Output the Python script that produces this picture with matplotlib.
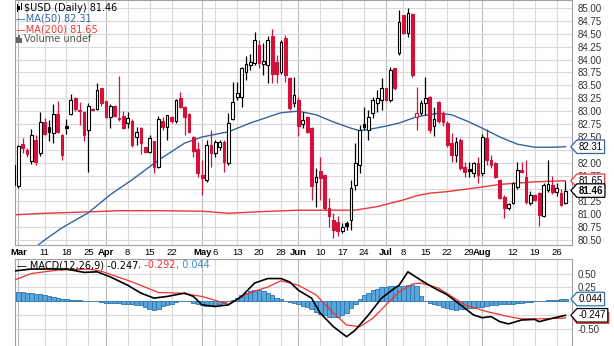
import matplotlib
matplotlib.use("Agg")
import matplotlib.pyplot as plt
import numpy as np
from matplotlib.path import Path
from matplotlib.patches import Rectangle, Polygon

# daily bars, Mar 1 .. Aug 28 (first bar is the clipped one before Mar 1)
opens = [81.56,
         81.54, 82.37, 82.24, 82.03, 82.45, 82.18, 82.79, 82.69, 82.58, 82.94,
         82.54, 82.71, 82.95, 83.26, 83.03, 82.99, 82.63, 83.05, 83.05, 83.44,
         83.19, 82.89, 83.10, 82.87, 82.91, 82.78, 82.81, 82.50, 82.67, 82.30,
         82.20, 82.42, 81.91, 82.80, 82.70, 82.89, 82.80, 83.25, 83.09, 82.95,
         82.49, 82.26, 81.76, 81.67, 82.35, 82.18, 82.30, 82.41, 82.00, 82.84,
         83.28, 83.28, 83.75, 83.90, 83.93, 84.28, 83.91, 83.90, 84.46, 83.96,
         83.75, 84.41, 83.64, 83.15, 83.22, 82.76, 82.89, 82.67, 81.62, 81.83,
         81.76, 81.12, 80.89, 80.86, 80.67, 80.84, 80.89, 81.57, 81.96, 82.76,
         82.64, 82.96, 83.15, 83.22, 83.44, 83.22, 83.83, 84.12, 84.86, 84.51,
         84.88, 82.89, 82.97, 83.16, 83.28, 82.71, 83.18, 82.97, 82.77, 82.38,
         82.15, 82.44, 81.92, 81.87, 81.80, 82.00, 81.80, 82.48, 82.05, 82.00,
         81.67, 81.34, 81.12, 81.22, 81.53, 81.86, 81.73, 81.22, 81.38, 81.41,
         80.96, 81.48, 81.57, 81.44, 81.42, 81.22]
highs = [81.98,
         82.35, 82.48, 82.28, 82.65, 82.53, 82.98, 82.87, 82.83, 83.13, 83.20,
         82.55, 82.84, 83.34, 83.28, 83.17, 83.00, 83.15, 83.07, 83.54, 83.45,
         83.20, 83.13, 83.12, 83.69, 83.00, 82.99, 82.84, 82.69, 82.69, 82.31,
         82.53, 82.43, 82.90, 82.89, 82.93, 82.90, 83.23, 83.38, 83.10, 82.97,
         82.51, 82.41, 82.05, 82.44, 82.64, 82.44, 82.44, 82.44, 82.96, 83.57,
         83.57, 83.86, 84.06, 84.10, 84.54, 84.38, 84.32, 84.45, 84.60, 84.09,
         84.38, 84.48, 83.67, 83.67, 83.28, 82.99, 82.90, 82.70, 81.89, 82.12,
         81.77, 81.31, 81.02, 80.96, 80.83, 80.87, 81.67, 82.38, 82.73, 83.09,
         83.02, 83.28, 83.41, 83.64, 83.45, 83.86, 83.84, 84.96, 84.87, 85.00,
         84.90, 83.47, 83.22, 83.66, 83.30, 83.09, 83.20, 83.00, 82.80, 82.58,
         82.50, 82.48, 82.02, 82.02, 82.02, 82.12, 82.56, 82.65, 82.15, 82.02,
         81.69, 81.38, 81.22, 81.63, 82.02, 82.02, 82.05, 81.45, 81.40, 81.44,
         81.60, 82.06, 81.75, 81.60, 81.50, 81.64]
lows = [81.54,
        81.51, 82.19, 82.12, 81.98, 81.95, 82.13, 82.53, 82.42, 82.39, 82.58,
        82.06, 82.55, 82.93, 83.00, 82.74, 82.43, 81.83, 83.00, 83.02, 83.10,
        82.87, 82.67, 82.88, 82.80, 82.66, 82.68, 82.30, 82.35, 82.16, 82.19,
        82.19, 81.80, 81.89, 82.64, 82.44, 82.78, 82.78, 83.06, 82.54, 82.57,
        82.12, 81.73, 81.38, 81.63, 81.92, 82.12, 82.25, 81.83, 81.95, 82.83,
        83.22, 83.09, 83.60, 83.80, 83.90, 83.83, 83.70, 83.54, 83.54, 83.54,
        83.72, 83.57, 83.02, 83.09, 82.51, 82.67, 82.57, 81.28, 81.15, 81.28,
        81.09, 80.76, 80.54, 80.57, 80.63, 80.70, 80.70, 81.47, 81.80, 82.64,
        82.44, 82.86, 82.99, 83.02, 83.20, 83.18, 83.41, 84.09, 84.50, 84.44,
        83.67, 82.64, 82.93, 82.93, 82.57, 82.51, 82.78, 82.72, 82.30, 82.02,
        82.02, 81.85, 81.73, 81.72, 81.72, 81.60, 81.75, 81.95, 81.89, 81.70,
        81.30, 80.93, 81.08, 81.20, 81.49, 81.80, 81.20, 81.18, 81.26, 80.78,
        80.95, 81.44, 81.40, 81.36, 81.16, 81.20]
closes = [81.96,
          82.32, 82.28, 82.16, 82.53, 82.02, 82.79, 82.56, 82.60, 82.94, 82.60,
          82.15, 82.68, 83.21, 83.04, 83.00, 82.54, 83.10, 83.03, 83.41, 83.15,
          82.89, 83.10, 82.90, 82.85, 82.67, 82.87, 82.34, 82.59, 82.39, 82.21,
          82.48, 81.91, 82.85, 82.70, 82.93, 82.80, 83.22, 83.09, 82.89, 82.60,
          82.22, 81.80, 81.70, 82.35, 82.18, 82.41, 82.41, 82.02, 82.78, 83.18,
          83.36, 83.83, 83.91, 83.95, 84.38, 83.94, 83.97, 84.38, 83.73, 83.72,
          84.35, 83.70, 83.06, 83.31, 82.71, 82.83, 82.60, 81.54, 81.73, 81.70,
          81.12, 80.97, 80.70, 80.68, 80.76, 80.78, 81.51, 82.00, 82.64, 82.70,
          82.89, 83.22, 83.25, 83.44, 83.22, 83.80, 83.44, 84.73, 84.51, 84.90,
          83.70, 82.97, 83.16, 83.26, 82.64, 82.85, 82.81, 82.79, 82.34, 82.15,
          82.40, 81.90, 81.82, 81.84, 82.00, 81.76, 82.50, 82.05, 81.96, 81.73,
          81.32, 81.12, 81.20, 81.61, 81.86, 81.82, 81.24, 81.38, 81.28, 80.98,
          81.57, 81.58, 81.44, 81.51, 81.18, 81.46]

# moving averages (bar index, value)
ma50_idx = [0, 6, 10, 16, 21, 26, 32, 38, 42, 48, 53, 60, 64, 68, 72, 76, 78,
            81, 84, 87, 91, 96, 99, 103, 106, 110, 114, 118, 122, 125]
ma50_val = [80.10, 80.50, 80.74, 81.03, 81.38, 81.67, 82.05, 82.38, 82.50,
            82.60, 82.77, 82.97, 83.00, 82.93, 82.79, 82.67, 82.62, 82.66,
            82.71, 82.77, 82.89, 82.96, 82.93, 82.79, 82.67, 82.50, 82.36,
            82.30, 82.30, 82.31]
ma200_idx = [-1, 6, 17, 23, 32, 42, 48, 55, 64, 72, 77, 82, 88, 91, 94, 98,
             106, 110, 118, 125]
ma200_val = [80.99, 81.02, 81.05, 81.07, 81.07, 81.06, 81.02, 81.05, 81.08,
             81.08, 81.08, 81.15, 81.28, 81.36, 81.41, 81.44, 81.53, 81.58,
             81.63, 81.65]

# MACD(12,26,9)
macd_idx = [-1, 3, 11, 15, 18, 21, 25, 28, 31, 34, 38, 40, 42, 45, 48, 51, 54,
            57, 60, 62, 64, 67, 69, 72, 75, 77, 80, 83, 86, 87, 89, 92, 95, 98,
            101, 104, 106, 108, 110, 112, 115, 118, 119, 122, 125]
macd_val = [0.545, 0.58, 0.58, 0.52, 0.53, 0.44, 0.29, 0.15, 0.06, 0.09, 0.15,
            0.09, -0.06, -0.09, -0.06, 0.09, 0.33, 0.41, 0.41, 0.35, 0.20,
            0.06, -0.21, -0.45, -0.63, -0.51, -0.24, 0.06, 0.24, 0.29, 0.53,
            0.38, 0.24, 0.12, -0.06, -0.24, -0.29, -0.27, -0.36, -0.40, -0.33,
            -0.32, -0.36, -0.30, -0.247]
signal_idx = [-1, 3, 9, 16, 19, 26, 32, 37, 42, 48, 52, 57, 60, 64, 68, 72, 75,
              78, 81, 84, 87, 90, 92, 96, 99, 102, 107, 112, 115, 119, 124, 125]
signal_val = [0.38, 0.50, 0.56, 0.58, 0.54, 0.35, 0.16, 0.15, 0.09, -0.05,
              0.13, 0.26, 0.37, 0.29, 0.12, -0.21, -0.42, -0.45, -0.30, -0.06,
              0.17, 0.31, 0.33, 0.24, 0.09, -0.06, -0.18, -0.27, -0.31, -0.31,
              -0.30, -0.292]
hist = [0.17,
        0.17, 0.17, 0.16, 0.15, 0.14, 0.13, 0.12, 0.10, 0.08, 0.07,
        0.05, 0.04, 0.03, 0.02, 0.02, 0.01, 0.01, 0.00, 0.00, -0.01,
        -0.02, -0.02, -0.03, -0.03, -0.04, -0.05, -0.05, -0.06, -0.07, -0.10,
        -0.13, -0.15, -0.13, -0.08, -0.06, -0.04, -0.01, 0.01, 0.01, 0.00,
        -0.02, -0.05, -0.07, -0.08, -0.08, -0.07, -0.05, -0.03, 0.00, 0.03,
        0.07, 0.11, 0.15, 0.18, 0.20, 0.20, 0.18, 0.15, 0.11, 0.07,
        0.04, 0.01, -0.01, -0.03, -0.05, -0.08, -0.10, -0.14, -0.18, -0.22,
        -0.25, -0.27, -0.28, -0.28, -0.25, -0.20, -0.12, -0.04, 0.04, 0.11,
        0.16, 0.20, 0.23, 0.25, 0.26, 0.27, 0.27, 0.27, 0.28, 0.29,
        0.29, 0.27, 0.10, 0.00, -0.02, -0.04, -0.07, -0.10, -0.12, -0.14,
        -0.15, -0.14, -0.13, -0.12, -0.11, -0.10, -0.09, -0.08, -0.07, -0.06,
        -0.05, -0.05, -0.04, -0.04, -0.03, -0.02, -0.01, -0.01, 0.00, 0.01,
        0.01, 0.02, 0.03, 0.03, 0.04, 0.044]

tick_idx = [0, 6, 11, 16, 20, 25, 30, 35, 42, 45, 50, 55, 60, 64, 69, 74, 79,
            84, 88, 93, 98, 103, 106, 113, 118, 123]
tick_labels = ["Mar", "11", "18", "25", "Apr", "8", "15", "22", "May", "6",
               "13", "20", "28", "Jun", "10", "17", "24", "Jul", "8", "15",
               "22", "29", "Aug", "12", "19", "26"]
months = ["Mar", "Apr", "May", "Jun", "Jul", "Aug"]

RED = "#d3123b"
BLUE_MA = "#34649f"
RED_MA = "#ee3636"
W, H = 614, 346

o = np.array(opens); h = np.array(highs); l = np.array(lows); c = np.array(closes)
x = np.arange(len(o)) - 1
prev = np.r_[o[0], c[:-1]]
line_col = np.where(c < prev, RED, "black")
face_col = np.where(c >= o, "white", line_col)

fig = plt.figure(figsize=(W / 100, H / 100), dpi=100)
ax = fig.add_axes([15 / W, 1 - 245 / H, 557 / W, 245 / H])
ax2 = fig.add_axes([15 / W, 0, 557 / W, 87 / H])

xlim = (-0.76, 126.5)
grid_c = "#dadada"
for a in (ax, ax2):
    a.set_xlim(*xlim)
    for i, lab in zip(tick_idx, tick_labels):
        a.axvline(i, color="#b8b8b8" if lab in months else grid_c, lw=0.8, zorder=0)
    for s in a.spines.values():
        s.set_color("#a0a0a0")
        s.set_linewidth(0.8)

# price panel
ax.set_ylim(80.405, 85.155)
yt = np.arange(80.5, 85.01, 0.25)
ax.set_yticks(yt)
# 81.50 sits fully under the last-price tag in the original
ax.set_yticklabels(["" if abs(v - 81.5) < 1e-6 else "%.2f" % v for v in yt])
for v in yt:
    ax.axhline(v, color=grid_c, lw=0.8, zorder=0)
ax.yaxis.tick_right()
ax.tick_params(axis="y", length=0, pad=4, labelsize=7, labelcolor="#333333")
ax.set_xticks(tick_idx)
ax.set_xticklabels(tick_labels)
ax.tick_params(axis="x", length=0, pad=2.5, labelsize=6.8)
for t in ax.get_xticklabels():
    t.set_fontfamily("Liberation Sans")
    if t.get_text() in months:
        t.set_fontweight("bold")
for t in ax.get_yticklabels():
    t.set_fontfamily("Liberation Sans")

ax.plot(ma200_idx, ma200_val, color=RED_MA, lw=1.0, zorder=2)
ax.plot(ma50_idx, ma50_val, color=BLUE_MA, lw=1.0, zorder=2)

ax.vlines(x, l, h, colors=line_col, lw=0.9, zorder=3)
ax.bar(x, np.maximum(np.abs(c - o), 0.006), bottom=np.minimum(o, c), width=0.62,
       color=face_col, edgecolor=line_col, linewidth=0.8, zorder=4)


def tag(x0, y0, width, height, mutation_size):
    pad = 0.18 * mutation_size
    x0 -= pad; y0 -= pad; width += 2 * pad; height += 2 * pad
    tip = height * 0.45
    verts = [(x0, y0), (x0 + width, y0), (x0 + width, y0 + height),
             (x0, y0 + height), (x0 - tip, y0 + height / 2), (x0, y0)]
    return Path(verts, closed=True)


def value_tag(a, val, text, ec, bold=False):
    a.text(1.012, val, text, transform=a.get_yaxis_transform(), fontsize=7,
           va="center", ha="left", family="Liberation Sans",
           fontweight="bold" if bold else "normal", clip_on=False, zorder=6,
           bbox=dict(boxstyle=tag, fc="white", ec=ec, lw=0.9))


value_tag(ax, 82.31, "82.31", BLUE_MA)
value_tag(ax, 81.65, "81.65", RED_MA)
value_tag(ax, closes[-1], "%.2f" % closes[-1], "black", bold=True)

# legend
lx = (24 - 15) / 557
ax.text(lx, 1 - 8 / 245, "$USD (Daily) %.2f" % closes[-1], transform=ax.transAxes,
        fontsize=7, va="center", color="black")
ax.text(0.002, 1 - 18.5 / 245, "\u2014MA(50) 82.31", transform=ax.transAxes,
        fontsize=7, va="center", color=BLUE_MA)
ax.text(0.002, 1 - 29 / 245, "\u2014MA(200) 81.65", transform=ax.transAxes,
        fontsize=7, va="center", color=RED_MA)
ax.text(lx, 1 - 39.5 / 245, "Volume undef", transform=ax.transAxes,
        fontsize=7, va="center", color="#555555")
for (px, py, pw, ph, col) in [(16.5, 4, 1, 8, "black"), (18, 6, 2, 4, "black"),
                              (20.5, 3, 1, 7, "black"),
                              (16, 37, 1.6, 6, "#666666"), (18.2, 35, 1.6, 8, "#666666"),
                              (20.4, 38, 1.6, 5, "#666666")]:
    fig.add_artist(Rectangle((px / W, 1 - (py + ph) / H), pw / W, ph / H,
                             transform=fig.transFigure, fc=col, ec="none"))

# MACD panel
ax2.set_ylim(-0.795, 0.759)
mt = [0.5, 0.25, 0.0, -0.25, -0.5]
ax2.set_yticks(mt)
# 0.00 and -0.25 are covered by the value tags in the original
ax2.set_yticklabels(["0.50", "0.25", "", "", "-0.50"])
for v in mt:
    ax2.axhline(v, color=grid_c, lw=0.8, zorder=0)
ax2.yaxis.tick_right()
ax2.tick_params(axis="y", length=0, pad=4, labelsize=7, labelcolor="#333333")
for t in ax2.get_yticklabels():
    t.set_fontfamily("Liberation Sans")
ax2.set_xticks([])

ax2.bar(x, hist, width=1.0, color="#59a7da", edgecolor="#2d74b0", linewidth=0.6,
        zorder=2)
ax2.plot(signal_idx, signal_val, color="#f03030", lw=0.9, zorder=3)
ax2.plot(macd_idx, macd_val, color="black", lw=1.2, zorder=4)

value_tag(ax2, 0.044, "0.044", "#2d74b0")
# signal tag sits behind the MACD tag, only its red outline shows
ppu = 87 / (0.759 + 0.795)
sv = signal_val[-1]
hh = 5.5 / ppu
x0, x1, tip = 1.0085, 1.066, 1.0015
ax2.add_patch(Polygon([(x0, sv - hh), (x1, sv - hh), (x1, sv + hh), (x0, sv + hh),
                       (tip, sv)], closed=True, transform=ax2.get_yaxis_transform(),
                      fc="white", ec=RED_MA, lw=0.9, clip_on=False, zorder=5))
value_tag(ax2, -0.247, "-0.247", "black")

t1 = ax2.text(0.003, 1 - 6 / 87, "\u2014 MACD(12,26,9) -0.247", transform=ax2.transAxes,
              fontsize=7, va="center", color="black")
t2 = ax2.annotate(", -0.292", xycoords=t1, xy=(1, 0.5), va="center",
                  fontsize=7, color="#f03030")
ax2.annotate(", 0.044", xycoords=t2, xy=(1, 0.5), va="center",
             fontsize=7, color="#3d8fd1")

# 82.25 and 81.75 peek out from under the tags, as in the original
fig.canvas.draw()
for t in ax.get_yticklabels():
    if t.get_text() in ("82.25", "81.75"):
        bb = t.get_window_extent()
        t.set_clip_box(matplotlib.transforms.Bbox.from_extents(bb.x0 - 2, bb.y0 - 2, bb.x1 + 2, bb.y1 + 2))
        t.set_zorder(1)

fig.savefig("out.png", dpi=100)
